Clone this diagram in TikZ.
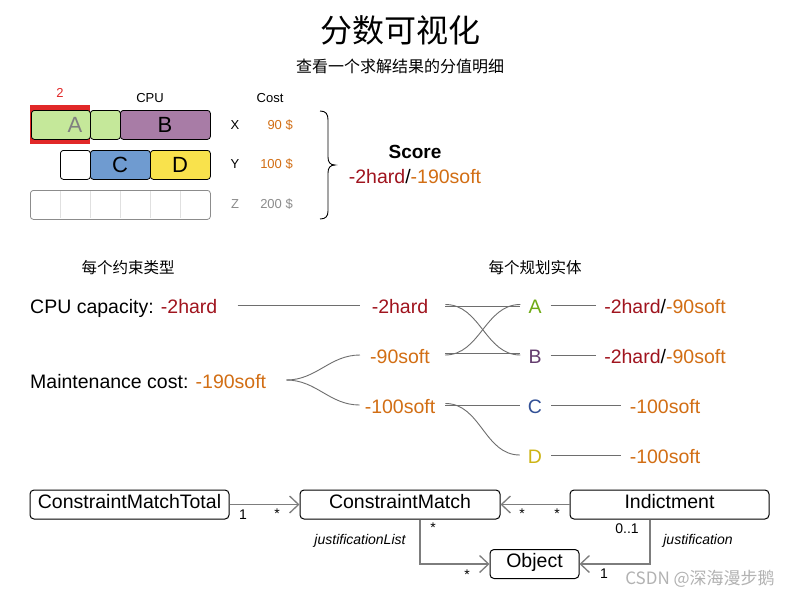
\documentclass[tikz,border=0pt]{standalone}
\usepackage{fontspec}
\setmainfont{Liberation Sans}
\newfontfamily\cjk{Noto Sans CJK SC}
\usetikzlibrary{arrows.meta}
\definecolor{hard}{RGB}{160,20,30}
\definecolor{soft}{RGB}{210,110,20}
\definecolor{agreen}{RGB}{197,232,154}
\definecolor{bpurple}{RGB}{168,124,166}
\definecolor{cblue}{RGB}{111,155,208}
\definecolor{dyellow}{RGB}{249,226,76}
\definecolor{hlred}{RGB}{225,40,40}
\definecolor{lA}{RGB}{110,170,20}
\definecolor{lB}{RGB}{100,60,110}
\definecolor{lC}{RGB}{50,80,150}
\definecolor{lD}{RGB}{205,180,20}
\definecolor{conncol}{RGB}{110,110,110}
\definecolor{umlcol}{RGB}{125,125,125}
\tikzset{
  cell/.style={draw, rounded corners=3pt, minimum height=29pt, inner sep=0pt, line width=0.8pt},
  celltext/.style={font=\fontsize{22}{24}\selectfont, inner sep=0pt},
  small/.style={font=\fontsize{13}{15}\selectfont, inner sep=0pt},
  big/.style={font=\fontsize{19.5}{22}\selectfont, inner sep=0pt, text height=16.3pt, text depth=1.7pt},
  cjkhead/.style={font=\cjk\fontsize{15.5}{18}\selectfont, inner sep=0pt},
  conn/.style={draw=conncol, line width=0.9pt},
  uml/.style={draw, rounded corners=4pt, line width=1pt, inner sep=0pt, font=\fontsize{19.5}{22}\selectfont},
  umlc/.style={draw=umlcol, line width=1.6pt, -{Straight Barb[length=9pt,width=17pt,line width=1.3pt]}},
  mult/.style={font=\fontsize{14}{16}\selectfont, inner sep=0pt},
  role/.style={font=\itshape\fontsize{14}{16}\selectfont, inner sep=0pt}
}
\begin{document}
\begin{tikzpicture}[x=1pt,y=-1pt]
\useasboundingbox (0,0) rectangle (800,600);
\fill[white] (0,0) rectangle (800,600);
% titles
\node[font=\cjk\fontsize{32}{36}\selectfont, inner sep=0pt] (title) at (400,30) {分数可视化};
\node[font=\cjk\fontsize{16}{18}\selectfont, inner sep=0pt] (sub) at (400,66) {查看一个求解结果的分值明细};
% top table
\node[small, text=hlred] (two) at (60,93) {2};
\node[small] (cpuh) at (150,98) {CPU};
\node[small] (costh) at (270,98) {Cost};
\node[fill=hlred, minimum width=60pt, minimum height=39pt, inner sep=0pt, anchor=north west] (hl) at (30,105) {};
\node[cell, fill=agreen, minimum width=59pt, anchor=north west] (boxA) at (31,110) {};
\node[celltext, text=gray] (labA) at (75,124.5) {A};
\node[cell, fill=agreen, minimum width=30pt, anchor=north west] (boxA2) at (90,110) {};
\node[cell, fill=bpurple, minimum width=90pt, anchor=north west] (boxB) at (120,110) {};
\node[celltext] (labB) at (165,124.5) {B};
\node[cell, fill=white, minimum width=30pt, anchor=north west] (boxE) at (60,150) {};
\node[cell, fill=cblue, minimum width=60pt, anchor=north west] (boxC) at (90,150) {};
\node[celltext] (labC) at (120,164.5) {C};
\node[cell, fill=dyellow, minimum width=60pt, anchor=north west] (boxD) at (150,150) {};
\node[celltext] (labD) at (180,164.5) {D};
\foreach \i in {60,90,120,150,180} \draw[black!12, line width=0.6pt] (\i,191) -- (\i,218);
\node[cell, draw=black!45, minimum width=180pt, anchor=north west] (boxZ) at (30,190) {};
\node[small] (mX) at (235,125) {X};
\node[small, text=soft, anchor=east] (cX) at (293,125) {90 \$};
\node[small] (mY) at (235,164) {Y};
\node[small, text=soft, anchor=east] (cY) at (293,164) {100 \$};
\node[small, text=black!45] (mZ) at (235,204) {Z};
\node[small, text=black!45, anchor=east] (cZ) at (293,204) {200 \$};
\draw[line width=0.9pt] (320,111) .. controls (326,111) and (328,114) .. (328,120) -- (328,157) .. controls (328,162) and (330,165) .. (335,165) .. controls (330,165) and (328,168) .. (328,173) -- (328,211) .. controls (328,216) and (326,219) .. (320,219);
\node[font=\bfseries\fontsize{19}{22}\selectfont, inner sep=0pt] (score) at (415,152) {Score};
\node[font=\fontsize{19.5}{22}\selectfont, inner sep=0pt] (scorev) at (415,177) {\textcolor{hard}{-2hard}/\textcolor{soft}{-190soft}};
% middle
\node[cjkhead] (h1) at (128,268) {每个约束类型};
\node[cjkhead] (h2) at (535,268) {每个规划实体};
\node[big, anchor=west] (cpu) at (30,306) {CPU capacity: \textcolor{hard}{-2hard}};
\node[big, anchor=west] (mc) at (30,381) {Maintenance cost: \textcolor{soft}{-190soft}};
\node[big, text=hard] (t2) at (400,306) {-2hard};
\node[big, text=soft] (t90) at (400,356) {-90soft};
\node[big, text=soft] (t100) at (400,406) {-100soft};
\node[big, text=lA] (eA) at (535,306) {A};
\node[big, text=lB] (eB) at (535,356) {B};
\node[big, text=lC] (eC) at (535,406) {C};
\node[big, text=lD] (eD) at (535,456) {D};
\node[big] (rA) at (665,306) {\textcolor{hard}{-2hard}/\textcolor{soft}{-90soft}};
\node[big] (rB) at (665,356) {\textcolor{hard}{-2hard}/\textcolor{soft}{-90soft}};
\node[big, text=soft] (rC) at (665,406) {-100soft};
\node[big, text=soft] (rD) at (665,456) {-100soft};
\draw[conn] ([xshift=20pt,yshift=1pt]cpu.east) -- ([xshift=-12pt,yshift=1pt]t2.west);
\draw[conn] ([xshift=20pt,yshift=1pt]mc.east) to[out=0,in=180] ([xshift=-10pt,yshift=1pt]t90.west);
\draw[conn] ([xshift=20pt,yshift=1pt]mc.east) to[out=0,in=180] ([xshift=-5pt,yshift=1pt]t100.west);
\draw[conn] ([xshift=17pt,yshift=0pt]t2.east) -- ([xshift=-8pt,yshift=0pt]eA.west);
\draw[conn] ([xshift=17pt,yshift=1.5pt]t2.east) to[out=0,in=180] ([xshift=-8pt,yshift=1pt]eB.west);
\draw[conn] ([xshift=15pt,yshift=1pt]t90.east) to[out=0,in=180] ([xshift=-8pt,yshift=1.5pt]eA.west);
\draw[conn] ([xshift=15pt,yshift=2.5pt]t90.east) -- ([xshift=-8pt,yshift=2.5pt]eB.west);
\draw[conn] ([xshift=10pt,yshift=1pt]t100.east) -- ([xshift=-8pt,yshift=1pt]eC.west);
\draw[conn] ([xshift=10pt,yshift=2.5pt]t100.east) to[out=0,in=180] ([xshift=-8pt,yshift=1pt]eD.west);
\draw[conn] ([xshift=9pt,yshift=1pt]eA.east) -- ([xshift=-8pt,yshift=1pt]rA.west);
\draw[conn] ([xshift=9pt,yshift=1pt]eB.east) -- ([xshift=-8pt,yshift=1pt]rB.west);
\draw[conn] ([xshift=9pt,yshift=1pt]eC.east) -- ([xshift=-9pt,yshift=1pt]rC.west);
\draw[conn] ([xshift=9pt,yshift=1pt]eD.east) -- ([xshift=-9pt,yshift=1pt]rD.west);
% UML
\node[uml, minimum width=199pt, text height=18.5pt, text depth=10.5pt] (cmt) at (129.5,504.5) {ConstraintMatchTotal};
\node[uml, minimum width=200pt, text height=18.5pt, text depth=10.5pt] (cm) at (400,504.5) {ConstraintMatch};
\node[uml, minimum width=199pt, text height=18.5pt, text depth=10.5pt] (ind) at (669.5,504.5) {Indictment};
\node[uml, minimum width=89pt, text height=18pt, text depth=11pt] (obj) at (534.5,564) {Object};
\draw[umlc] (cmt.east) -- (cm.west);
\draw[umlc] (ind.west) -- (cm.east);
\draw[umlc, rounded corners=0pt] ([xshift=20pt]cm.south) |- (obj.west);
\draw[umlc] ([xshift=-19.5pt]ind.south) |- (obj.east);
\node[mult] (m1) at (243,515) {1};
\node[mult] (m2) at (277,514) {*};
\node[mult] (m3) at (522,514) {*};
\node[mult] (m4) at (557,514) {*};
\node[mult] (m5) at (433,528) {*};
\node[mult] (m6) at (467,575) {*};
\node[mult] (m7) at (627,529) {0..1};
\node[mult] (m8) at (604,574) {1};
\node[role] (jl) at (360,541) {justificationList};
\node[role] (jj) at (698,541) {justification};
\node[font=\cjk\fontsize{17}{19}\selectfont, text=black!30, inner sep=0pt] (wm) at (700,579) {CSDN @深海漫步鹅};
\end{tikzpicture}
\end{document}
